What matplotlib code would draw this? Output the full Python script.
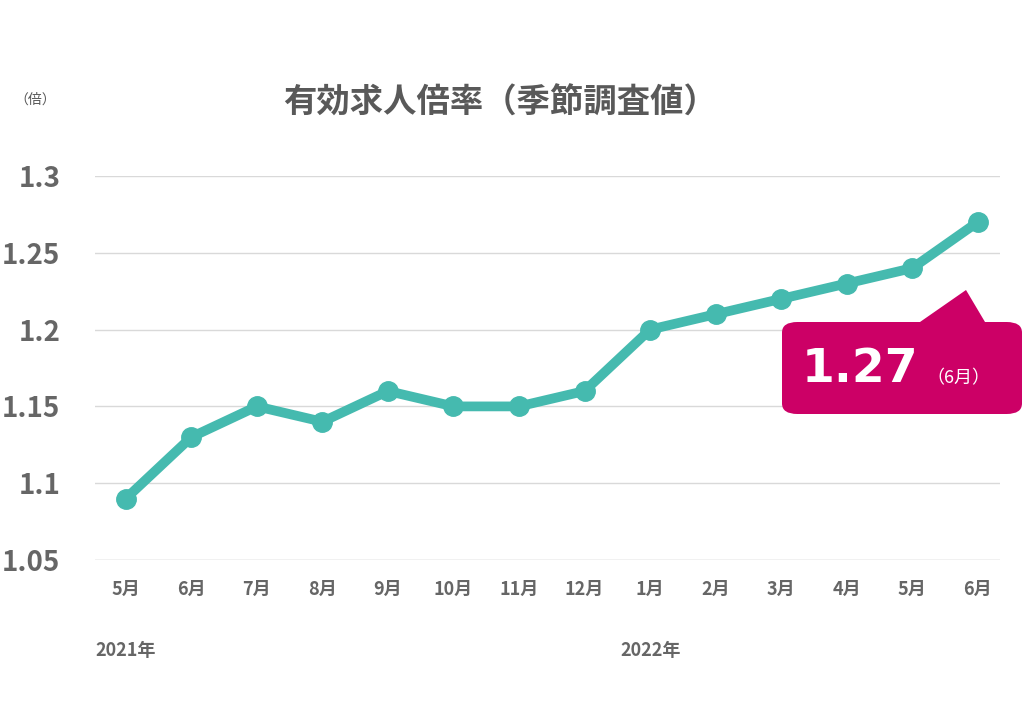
import matplotlib
matplotlib.use("Agg")
import matplotlib.pyplot as plt
from matplotlib.patches import FancyBboxPatch, Polygon

plt.rcParams['font.family'] = ['Noto Sans CJK JP', 'DejaVu Sans']

months = ["5月","6月","7月","8月","9月","10月","11月","12月","1月","2月","3月","4月","5月","6月"]
values = [1.09,1.13,1.15,1.14,1.16,1.15,1.15,1.16,1.20,1.21,1.22,1.23,1.24,1.27]
yticks = [1.05,1.1,1.15,1.2,1.25,1.3]
ytick_labels = ["1.05","1.1","1.15","1.2","1.25","1.3"]
years = [(0,"2021年"),(8,"2022年")]

fig = plt.figure(figsize=(10.24,7.04), dpi=100)
ax = fig.add_axes([95/1024, 144/704, 905/1024, 384/704])
x = list(range(len(values)))
ax.plot(x, values, color="#45BAAF", lw=7, marker="o", ms=14, zorder=3)
ax.set_xlim(-0.47, 13.34)
ax.set_ylim(1.05, 1.3)
ax.set_yticks(yticks)
ax.set_yticklabels(ytick_labels, fontsize=20, fontweight="bold", color="#666666")
ax.tick_params(axis="y", length=0, pad=25)
ax.set_xticks(x)
ax.set_xticklabels(months, fontsize=13, fontweight="bold", color="#666666")
ax.tick_params(axis="x", length=0, pad=14)
ax.grid(axis="y", color="#D9D9D9", lw=1)
ax.set_axisbelow(True)
for s in ax.spines.values():
    s.set_visible(False)
ax.axhline(1.05, color="#D9D9D9", lw=1, zorder=0)

for i, lab in years:
    fig.text((126 + i*65.54)/1024, 1-650/704, lab, fontsize=13, fontweight="bold",
             color="#666666", ha="center", va="center")

fig.text(500/1024, 1-103/704, "有効求人倍率（季節調査値）", fontsize=24, fontweight="bold",
         color="#595959", ha="center", va="center")
fig.text(35/1024, 1-100/704, "（倍）", fontsize=10, color="#595959", ha="center", va="center")

# callout
box = FancyBboxPatch((782/1024, 1-414/704), 240/1024, 92/704,
                     boxstyle="round,pad=0,rounding_size=0.015",
                     transform=fig.transFigure, fc="#CC0066", ec="none")
fig.patches.append(box)
tri = Polygon([(920/1024, 1-322/704), (966/1024, 1-290/704), (985/1024, 1-322/704)],
              closed=True, transform=fig.transFigure, fc="#CC0066", ec="none")
fig.patches.append(tri)
fig.text(860/1024, 1-370/704, "1.27", fontsize=34, fontweight="bold", color="white",
         ha="center", va="center", family=["DejaVu Sans"])
fig.text(958/1024, 1-378/704, "（6月）", fontsize=13, color="white", ha="center", va="center")

fig.savefig("out.png", dpi=100)
